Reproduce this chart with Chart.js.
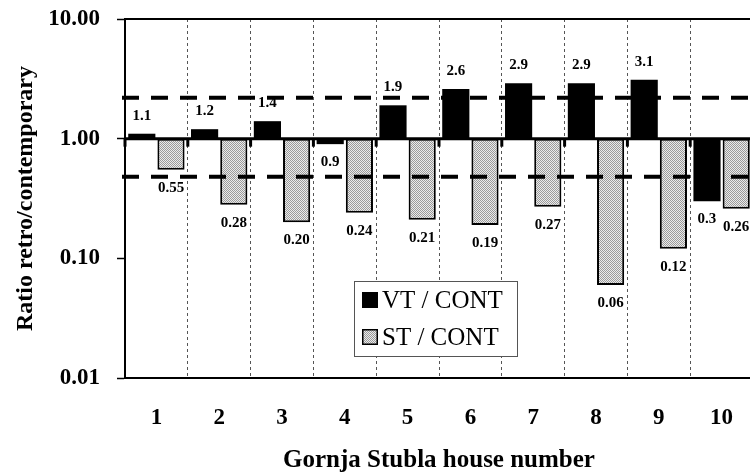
<!DOCTYPE html>
<html><head><meta charset="utf-8">
<script src="https://cdn.jsdelivr.net/npm/chart.js@4.4.0/dist/chart.umd.min.js"></script>
<style>html,body{margin:0;padding:0;background:#fff;overflow:hidden;width:750px;height:473px}canvas{display:block}</style>
</head><body>
<canvas id="c" width="760" height="473"></canvas>
<script>
const houses = ['1','2','3','4','5','6','7','8','9','10'];
const vtCont = [1.1, 1.2, 1.4, 0.9, 1.9, 2.6, 2.9, 2.9, 3.1, 0.3];
const stCont = [0.55, 0.28, 0.20, 0.24, 0.21, 0.19, 0.27, 0.06, 0.12, 0.26];
const vtLabels = ['1.1','1.2','1.4','0.9','1.9','2.6','2.9','2.9','3.1','0.3'];
const stLabels = ['0.55','0.28','0.20','0.24','0.21','0.19','0.27','0.06','0.12','0.26'];
const yTicks = [0.01, 0.1, 1, 10];
const refLines = [2.2, 0.48];
const baseValue = 1;
const seriesNames = ['VT / CONT', 'ST / CONT'];

const canvas = document.getElementById('c');
const ctx0 = canvas.getContext('2d');
function makePattern(){
  const p = document.createElement('canvas'); p.width = 2; p.height = 2;
  const g = p.getContext('2d');
  g.fillStyle = '#ebebeb'; g.fillRect(0,0,2,2);
  g.fillStyle = '#9a9a9a';
  g.fillRect(0,0,1,1); g.fillRect(1,1,1,1);
  return ctx0.createPattern(p, 'repeat');
}
const stipple = makePattern();
const SERIF = '"Liberation Serif", "Times New Roman", serif';

const overlay = {
  id: 'overlay',
  afterDatasetsDraw(chart){
    const {ctx, chartArea: a, scales: {x, y}} = chart;
    ctx.save();
    ctx.strokeStyle = '#000';
    ctx.lineWidth = 4; ctx.setLineDash([17, 12]);
    refLines.forEach(v => {
      const py = y.getPixelForValue(v);
      ctx.beginPath(); ctx.moveTo(a.left - 3, py); ctx.lineTo(a.right, py); ctx.stroke();
    });
    ctx.setLineDash([]);
    const by = y.getPixelForValue(baseValue);
    ctx.lineWidth = 3;
    ctx.beginPath(); ctx.moveTo(a.left, by); ctx.lineTo(a.right, by); ctx.stroke();
    const w = (x.right - x.left) / houses.length;
    ctx.lineWidth = 3;
    for (let i = 0; i <= houses.length; i++) {
      const px = x.left + i * w;
      ctx.beginPath(); ctx.moveTo(px, by); ctx.lineTo(px, by + 8); ctx.stroke();
    }
    ctx.lineWidth = 2;
    ctx.beginPath(); ctx.moveTo(a.left, a.top); ctx.lineTo(a.right, a.top); ctx.stroke();
    ctx.font = 'bold 15px ' + SERIF;
    ctx.fillStyle = '#000'; ctx.textAlign = 'center'; ctx.textBaseline = 'middle';
    [[vtCont, vtLabels], [stCont, stLabels]].forEach(([vals, labs], di) => {
      const meta = chart.getDatasetMeta(di);
      meta.data.forEach((bar, i) => {
        const py = y.getPixelForValue(vals[i]);
        const up = vals[i] >= baseValue;
        ctx.fillText(labs[i], bar.x, py + (up ? -18 : 18));
      });
    });
    ctx.restore();
  },
  afterDraw(chart){
    const {ctx, chartArea: a} = chart;
    const lx = a.left + 229, ly = a.top + 262, lw = 163, lh = 75;
    ctx.save();
    ctx.fillStyle = '#fff'; ctx.fillRect(lx, ly, lw, lh);
    ctx.strokeStyle = '#555'; ctx.lineWidth = 1;
    ctx.strokeRect(lx + 0.5, ly + 0.5, lw, lh);
    const fills = ['#000', stipple];
    ctx.font = '25px ' + SERIF; ctx.textAlign = 'left'; ctx.textBaseline = 'middle';
    seriesNames.forEach((name, i) => {
      const my = ly + 11 + i * 37;
      ctx.fillStyle = fills[i]; ctx.fillRect(lx + 8, my, 16, 16);
      ctx.strokeStyle = '#000'; ctx.lineWidth = 1.5; ctx.strokeRect(lx + 8.75, my + 0.75, 14.5, 14.5);
      ctx.fillStyle = '#000';
      ctx.fillText(name, lx + 28, my + 9);
    });
    ctx.restore();
  }
};

new Chart(canvas, {
  type: 'bar',
  data: {
    labels: houses,
    datasets: [
      { label: seriesNames[0], data: vtCont.map(v => [baseValue, v]), backgroundColor: '#000', borderColor: '#000', borderWidth: 0, borderSkipped: false, categoryPercentage: 0.93, barPercentage: 0.93 },
      { label: seriesNames[1], data: stCont.map(v => [baseValue, v]), backgroundColor: stipple, borderColor: '#000', borderWidth: 2, borderSkipped: false, categoryPercentage: 0.93, barPercentage: 0.93 }
    ]
  },
  options: {
    responsive: false, animation: false, devicePixelRatio: 1,
    layout: { padding: { left: 0, right: 7, top: 19, bottom: 0 } },
    plugins: { legend: { display: false }, tooltip: { enabled: false } },
    scales: {
      x: {
        offset: true,
        grid: { display: true, drawOnChartArea: true, drawTicks: false, color: '#555', lineWidth: 1, offset: true },
        border: { display: true, color: '#000', width: 2, dash: [3, 3] },
        ticks: { color: '#000', font: { family: SERIF, size: 23, weight: 'bold' }, padding: 26, maxRotation: 0 },
        title: { display: true, text: 'Gornja Stubla house number', color: '#000', font: { family: SERIF, size: 25, weight: 'bold' }, padding: { top: 0, bottom: -3 } },
        afterFit: s => { s.height = 95; s.paddingLeft = 0; s.paddingRight = 0; }
      },
      y: {
        type: 'logarithmic', min: 0.01, max: 10,
        afterBuildTicks: s => { s.ticks = yTicks.map(v => ({ value: v })); },
        grid: { drawOnChartArea: false, drawTicks: true, tickLength: 8, tickColor: '#000', tickWidth: 1.5 },
        border: { display: true, color: '#000', width: 2 },
        ticks: { color: '#000', font: { family: SERIF, size: 23, weight: 'bold' }, padding: 17, callback: v => Number(v).toFixed(2) },
        title: { display: true, text: 'Ratio retro/contemporary', color: '#000', font: { family: SERIF, size: 24, weight: 'bold' }, padding: { top: 11, bottom: 0 } },
        afterFit: s => { s.width = 125; s.paddingTop = 0; s.paddingBottom = 0; }
      }
    }
  },
  plugins: [overlay]
});
</script>
</body></html>
